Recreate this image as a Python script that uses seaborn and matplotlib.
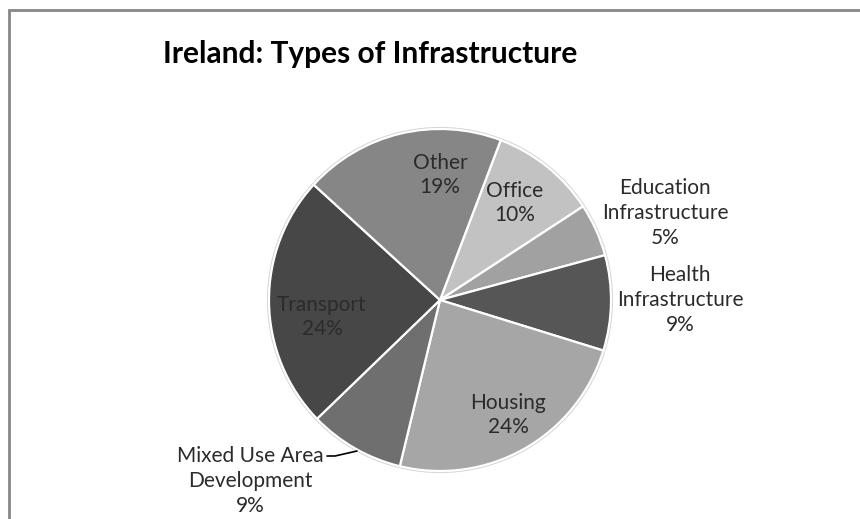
import matplotlib
matplotlib.use("Agg")
import matplotlib.pyplot as plt
from matplotlib.patches import Rectangle, Circle
import seaborn as sns

# Share of infrastructure types (percent), clockwise from Office
categories = ["Office", "Education\nInfrastructure", "Health\nInfrastructure",
              "Housing", "Mixed Use Area\nDevelopment", "Transport", "Other"]
shares = [10, 5, 9, 24, 9, 24, 19]
slice_colors = ["#c2c2c2", "#a1a1a1", "#565656", "#a6a6a6", "#6f6f6f", "#474747", "#868686"]

# label centres in figure pixels (x, y from top)
label_pos = [(515, 203), (665, 213), (680, 300), (508, 415), (250, 481), (322, 317), (440, 175)]

sns.set_style("white")
plt.rcParams["font.family"] = ["Lato", "DejaVu Sans"]

W, H = 860, 519
CX, CY, R = 440, 300, 171
fig = plt.figure(figsize=(W / 100, H / 100), dpi=100)
fig.patch.set_facecolor("white")
ax = fig.add_axes([0, 0, 1, 1])

# soft outer rim
ax.add_patch(Circle((0, 0), 1.012, facecolor="#d4d4d4", edgecolor="none", zorder=0))

wedges, _ = ax.pie(shares, colors=slice_colors, startangle=90 - 20.8,
                   counterclock=False, radius=1.0,
                   wedgeprops=dict(edgecolor="white", linewidth=1.6))

# pie() resets the limits, so place the unit circle afterwards
ax.set_xlim(-CX / R, (W - CX) / R)
ax.set_ylim(-(H - CY) / R, CY / R)
ax.set_aspect("equal")
ax.axis("off")

def fig_xy(x, y):
    return x / W, 1 - y / H

for name, val, (x, y) in zip(categories, shares, label_pos):
    fx, fy = fig_xy(x, y)
    fig.text(fx, fy, f"{name}\n{val}%", ha="center", va="center",
             fontsize=15, color="#2b2b2b", linespacing=1.3)

# leader line for the outside label
lx = [327, 335, 357]
ly = [456, 456, 451]
fig.add_artist(plt.Line2D([v / W for v in lx], [1 - v / H for v in ly],
                          color="black", lw=1.2, transform=fig.transFigure))

fig.text(0.5 * (168 + 572) / W, 1 - 54 / H, "Ireland: Types of Infrastructure",
         ha="center", va="center", fontsize=21.5, fontweight="bold", color="black")

# chart area frame
fig.add_artist(Rectangle((9 / W, -0.1), 1.2, 1 - 9.5 / H + 0.1, transform=fig.transFigure,
                         fill=False, edgecolor="#878787", lw=2))

fig.savefig("out.png", dpi=100, facecolor="white")
